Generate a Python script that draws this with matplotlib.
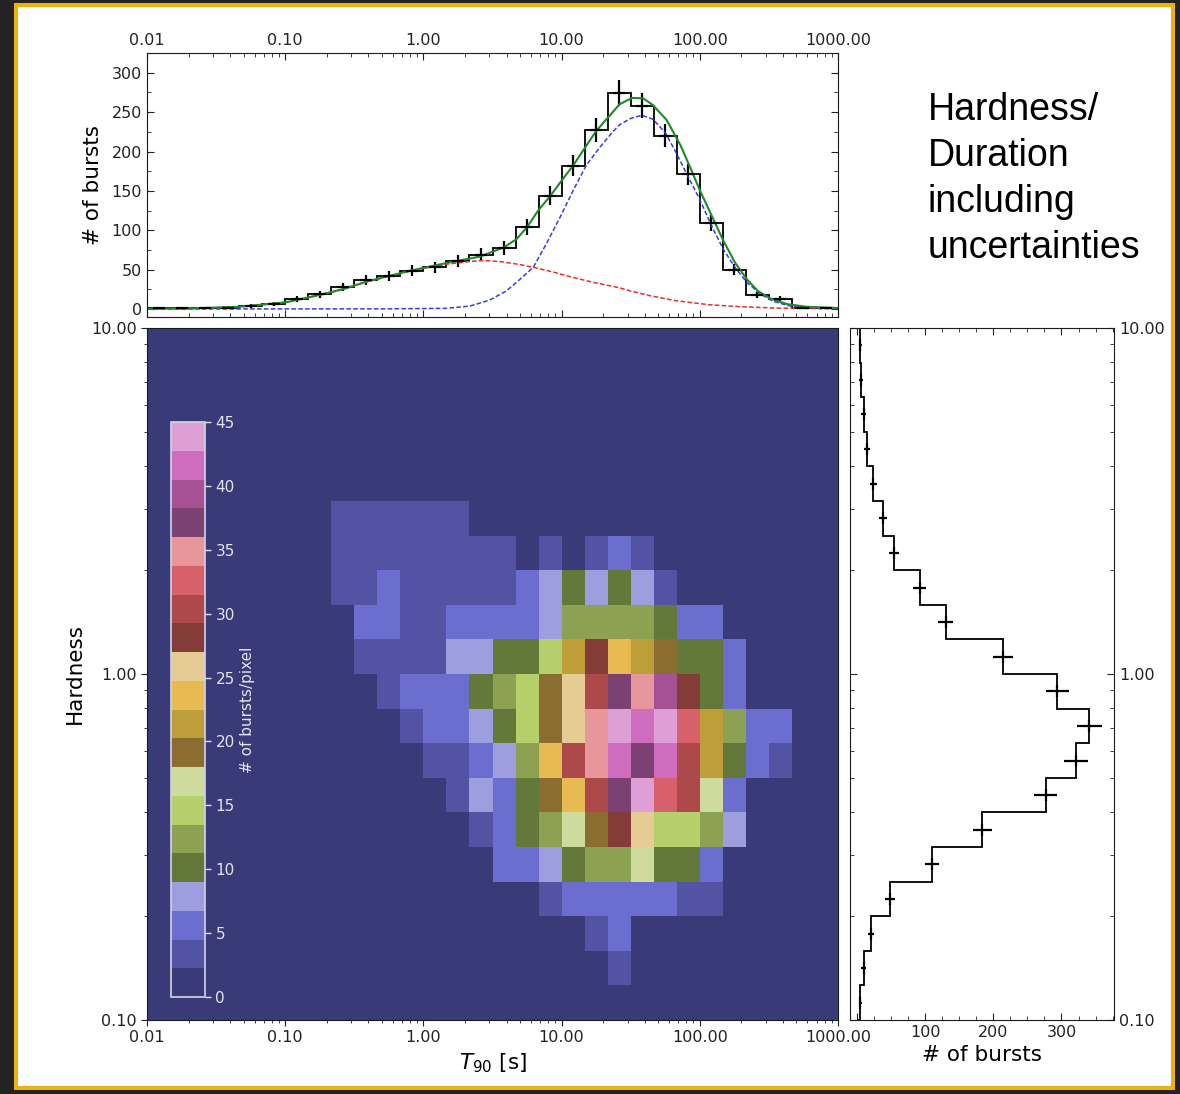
import numpy as np
import matplotlib.pyplot as plt
from matplotlib.patches import Rectangle
from matplotlib.ticker import FormatStrFormatter, MultipleLocator, NullFormatter

W, H = 1180, 1094

# binning of the duration / hardness plane
t90_edges = np.logspace(-2, 3, 31)
hr_edges = np.logspace(-1, 1, 21)

# bursts per T90 bin (top panel)
t90_counts = [1, 1, 1, 2, 4, 7, 13, 19, 28, 37, 42, 49, 53, 61, 69, 78, 104, 144,
              182, 227, 274, 258, 220, 171, 109, 50, 18, 13, 2, 1]

# bursts per hardness bin, from hardness 0.1 upward (right panel)
hr_counts = [5, 10, 21, 49, 110, 184, 277, 321, 341, 294, 214, 130, 92, 54, 38,
             24, 15, 10, 6, 5]

# two-component fit of the T90 distribution
total_logt = [-2.0, -1.69, -1.33, -1.0, -0.75, -0.58, -0.41, -0.24, -0.07, 0.17, 0.41,
              0.585, 0.675, 0.75, 0.83, 0.92, 1.0, 1.085, 1.17, 1.25, 1.35, 1.42, 1.51,
              1.59, 1.66, 1.76, 1.86, 1.93, 2.0, 2.09, 2.17, 2.255, 2.34, 2.42, 2.51,
              2.63, 2.77, 3.0]
total_n = [0.5, 0.8, 3, 8.5, 18, 25.5, 35, 42.5, 49.7, 58.6, 66.7, 78.6, 89, 104, 125,
           144, 163, 182.6, 205, 226, 246, 260, 268, 267.5, 259, 240, 208, 180, 151,
           117, 87, 59, 38, 23, 13.6, 6.4, 3, 1.3]

short_logt = [-2.0, -1.69, -1.33, -1.0, -0.75, -0.58, -0.41, -0.24, -0.07, 0.17, 0.34,
              0.43, 0.55, 0.7, 0.795, 0.94, 1.085, 1.23, 1.42, 1.5, 1.64, 1.83, 2.07,
              2.3, 2.56, 3.0]
short_n = [0.3, 0.8, 3, 8.5, 18, 25, 34.5, 42, 49.5, 57, 60.5, 61.6, 60.5, 56.5, 53, 47,
           40, 34, 27, 23, 17, 10.6, 5.5, 3, 1.3, 0.4]

long_logt = [-2.0, -0.31, 0.17, 0.34, 0.48, 0.6, 0.7, 0.795, 0.89, 0.99, 1.085, 1.18,
             1.28, 1.37, 1.42, 1.5, 1.58, 1.66, 1.75, 1.83, 1.93, 2.0, 2.09, 2.17,
             2.255, 2.34, 2.44, 2.53, 2.65, 2.8, 3.0]
long_n = [0.2, 0.3, 1, 4, 11.5, 23, 38, 53, 83, 117, 151, 183, 206, 225, 234, 242, 246,
          241, 224, 198, 163, 139, 104, 76, 53, 34, 19, 10, 4, 2, 1]

# bursts per pixel; hardness row counted from the top -> (first T90 column, counts)
pixel_rows = {
    5: (8, [3, 3, 3, 3, 3, 3]),
    6: (8, [3, 3, 3, 3, 3, 3, 3, 3, 0, 3, 0, 3, 5, 3]),
    7: (8, [3, 3, 5, 3, 3, 3, 3, 3, 5, 8, 10, 8, 10, 8, 3]),
    8: (9, [5, 5, 3, 3, 5, 5, 5, 5, 8, 12, 12, 12, 12, 10, 5, 5]),
    9: (9, [3, 3, 3, 3, 8, 8, 10, 10, 15, 21, 28, 24, 21, 19, 10, 10, 5]),
    10: (10, [3, 5, 5, 5, 10, 12, 15, 19, 26, 30, 37, 35, 39, 28, 10, 5]),
    11: (11, [3, 5, 5, 8, 10, 15, 19, 26, 35, 44, 42, 44, 33, 21, 12, 5, 5]),
    12: (12, [3, 3, 5, 8, 12, 24, 30, 35, 42, 37, 42, 30, 21, 10, 5, 3]),
    13: (13, [3, 8, 5, 10, 19, 24, 30, 37, 44, 33, 30, 17, 5]),
    14: (14, [3, 5, 10, 12, 17, 19, 28, 26, 15, 15, 12, 8]),
    15: (15, [5, 5, 8, 10, 12, 12, 17, 10, 10, 5]),
    16: (17, [3, 5, 5, 5, 5, 5, 3, 3]),
    17: (19, [3, 5]),
    18: (20, [3]),
}

grid = np.zeros((20, 30))
for row, (c0, vals) in pixel_rows.items():
    grid[19 - row, c0:c0 + len(vals)] = vals


def box(left, top, right, bottom):
    return [left / W, 1 - bottom / H, (right - left) / W, (bottom - top) / H]


tick_col = '#222222'
plt.rcParams['font.family'] = 'DejaVu Sans'

fig = plt.figure(figsize=(W / 100, H / 100), dpi=100, facecolor='#232323')
fig.add_artist(Rectangle((16 / W, 1 - 1088 / H), 1157 / W, 1083 / H,
                         transform=fig.transFigure, facecolor='white',
                         edgecolor='#efb20c', lw=2.9, zorder=-5))

ax_top = fig.add_axes(box(147, 53, 838, 317))
ax_main = fig.add_axes(box(147, 328, 838, 1020))
ax_right = fig.add_axes(box(850, 328, 1114, 1020))
cax = fig.add_axes(box(171, 422, 205, 997))

# --- 2D histogram
mesh = ax_main.pcolormesh(t90_edges, hr_edges, grid, cmap='tab20b', vmin=0, vmax=45)
ax_main.set_xscale('log')
ax_main.set_yscale('log')
ax_main.set_xlim(0.01, 1000)
ax_main.set_ylim(0.1, 10)
for axis in (ax_main.xaxis, ax_main.yaxis):
    axis.set_major_formatter(FormatStrFormatter('%.2f'))
    axis.set_minor_formatter(NullFormatter())
ax_main.tick_params(which='both', direction='out', labelsize=11.5, colors=tick_col)
ax_main.tick_params(which='major', length=4)
ax_main.tick_params(which='minor', length=2.5)
ax_main.set_xlabel('$T_{90}$ [s]', fontsize=15.5, labelpad=4)
ax_main.set_ylabel('Hardness', fontsize=15.5, labelpad=4)

cb = fig.colorbar(mesh, cax=cax, ticks=range(0, 46, 5))
cb.outline.set_edgecolor('#d4d4e4')
cb.outline.set_linewidth(1.2)
cax.tick_params(colors='#e4e4f0', labelsize=11, length=4, width=1)
cb.set_label('# of bursts/pixel', color='#e4e4f0', fontsize=11)

# --- T90 distribution
centers = np.sqrt(t90_edges[:-1] * t90_edges[1:])
ax_top.stairs(t90_counts, t90_edges, color='k', lw=1.3)
ax_top.errorbar(centers, t90_counts, yerr=np.sqrt(t90_counts), fmt='_', ms=9, mew=1.6,
                elinewidth=1.6, color='k')
ax_top.plot(10 ** np.array(short_logt), short_n, color='#e8302a', lw=1.1, ls=(0, (3, 1.5)))
ax_top.plot(10 ** np.array(long_logt), long_n, color='#3a3ae0', lw=1.1, ls=(0, (3, 1.5)))
ax_top.plot(10 ** np.array(total_logt), total_n, color='#1f8a2a', lw=1.5)
ax_top.set_xscale('log')
ax_top.set_xlim(0.01, 1000)
ax_top.set_ylim(-10, 325)
ax_top.xaxis.set_major_formatter(FormatStrFormatter('%.2f'))
ax_top.xaxis.set_minor_formatter(NullFormatter())
ax_top.yaxis.set_major_locator(MultipleLocator(50))
ax_top.yaxis.set_minor_locator(MultipleLocator(25))
ax_top.tick_params(which='both', direction='in', top=True, bottom=True, left=True,
                   right=True, labeltop=True, labelbottom=False, labelsize=11.5,
                   colors=tick_col)
ax_top.tick_params(which='major', length=5)
ax_top.tick_params(which='minor', length=3)
ax_top.set_ylabel('# of bursts', fontsize=15.5, labelpad=6)

# --- hardness distribution
hr_centers = np.sqrt(hr_edges[:-1] * hr_edges[1:])
ax_right.stairs(hr_counts, hr_edges, orientation='horizontal', color='k', lw=1.3)
ax_right.errorbar(hr_counts, hr_centers, xerr=np.sqrt(hr_counts), fmt='|', ms=8, mew=1.6,
                  elinewidth=1.6, color='k')
ax_right.set_yscale('log')
ax_right.set_ylim(0.1, 10)
ax_right.set_xlim(-10, 377)
ax_right.set_xticks([0, 100, 200, 300], ['', '100', '200', '300'])
ax_right.xaxis.set_minor_locator(MultipleLocator(25))
ax_right.yaxis.set_major_formatter(FormatStrFormatter('%.2f'))
ax_right.yaxis.set_minor_formatter(NullFormatter())
ax_right.tick_params(which='both', direction='in', top=True, bottom=True, left=True,
                     right=True, labelleft=False, labelright=True, labelsize=11.5,
                     colors=tick_col)
ax_right.tick_params(which='major', length=5)
ax_right.tick_params(which='minor', length=3)
ax_right.set_xlabel('# of bursts', fontsize=15.5, labelpad=4)

for ax in (ax_top, ax_main, ax_right):
    for sp in ax.spines.values():
        sp.set_color('#1a1a1a')

fig.text(928 / W, 1 - 92 / H, 'Hardness/\nDuration\nincluding\nuncertainties',
         fontsize=27, family='Liberation Sans', ha='left', va='top', linespacing=1.36)

fig.savefig('out.png', dpi=100, facecolor=fig.get_facecolor())
